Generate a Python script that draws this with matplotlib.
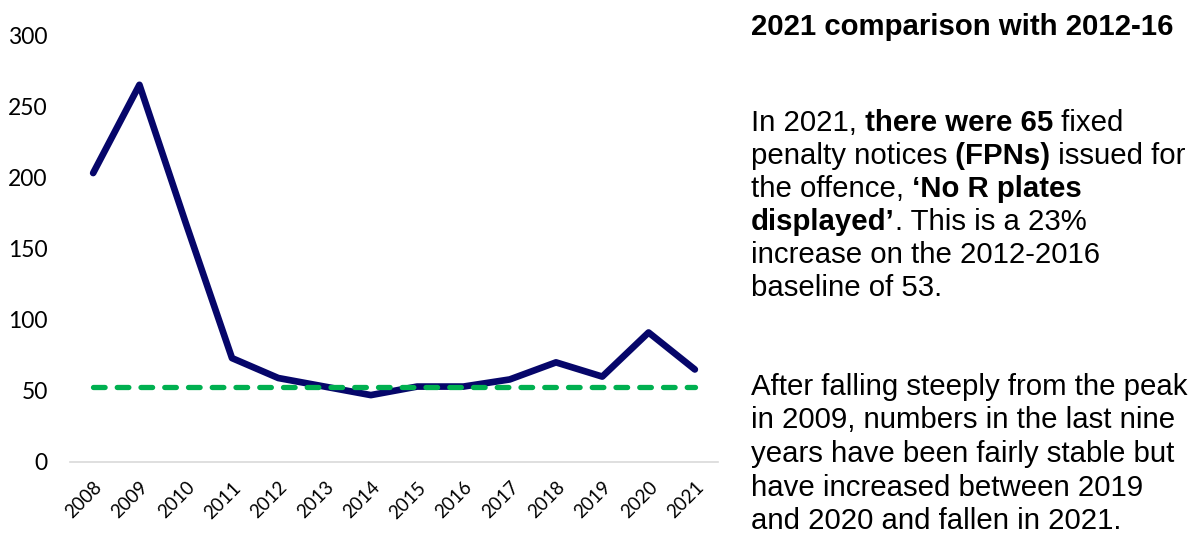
import numpy as np
import matplotlib
matplotlib.use("Agg")
import matplotlib.pyplot as plt

# Fixed penalty notices issued for 'No R plates displayed'
years = ["2008", "2009", "2010", "2011", "2012", "2013", "2014",
         "2015", "2016", "2017", "2018", "2019", "2020", "2021"]
fpns = [203, 265, 168, 73, 59, 53, 47, 53, 53, 58, 70, 60, 91, 65]
baseline_2012_16 = 53

y_ticks = [0, 50, 100, 150, 200, 250, 300]

title = "2021 comparison with 2012-16"
para_one = [
    [("In 2021,", False), (" there were 65", True), (" fixed", False)],
    [("penalty notices", False), (" (FPNs)", True), (" issued for", False)],
    [("the offence,", False), (" \u2018No R plates", True)],
    [("displayed\u2019", True), (". This is a 23%", False)],
    [("increase on the 2012-2016", False)],
    [("baseline of 53.", False)],
]
para_two = [
    [("After falling steeply from the peak", False)],
    [("in 2009, numbers in the last nine", False)],
    [("years have been fairly stable but", False)],
    [("have increased between 2019", False)],
    [("and 2020 and fallen in 2021.", False)],
]

W, H = 1199, 540
fig = plt.figure(figsize=(W / 100, H / 100), dpi=100)
ax = fig.add_axes([70 / W, 1 - 462 / H, (718 - 70) / W, (462 - 35) / H])

x = np.arange(len(years))
ax.plot(x, fpns, color="#06066a", lw=4.8,
        solid_joinstyle="round", solid_capstyle="round", zorder=2)
ax.plot(x, np.full(len(years), baseline_2012_16), color="#00b050", lw=3.8,
        ls=(0, (2.2, 2.3)), dash_capstyle="round", zorder=3)

ax.set_xlim(-0.5, len(years) - 0.5)
ax.set_ylim(0, 300)
ax.set_yticks(y_ticks)
ax.set_yticklabels([str(v) for v in y_ticks], fontfamily="Lato", fontsize=16.5)
ax.set_xticks(x)
ax.set_xticklabels(years, fontfamily="Lato", fontsize=13.5, rotation=45,
                   ha="right", va="top", rotation_mode="anchor")
ax.tick_params(axis="y", length=0, pad=16)
ax.tick_params(axis="x", length=0, pad=12)

for side in ["left", "right", "top"]:
    ax.spines[side].set_visible(False)
ax.spines["bottom"].set_color("#d9d9d9")
ax.spines["bottom"].set_linewidth(1.2)

# Commentary panel
txt_kw = dict(fontfamily="Liberation Sans", fontsize=21.2, color="black")
x0 = 751 / W


def write_line(y_px, segments):
    text, bold = segments[0]
    t = fig.text(x0, 1 - y_px / H, text, va="baseline", ha="left",
                 fontweight="bold" if bold else "normal", **txt_kw)
    for text, bold in segments[1:]:
        t = ax.annotate(text, xy=(1, 0), xycoords=t, va="bottom", ha="left",
                        fontweight="bold" if bold else "normal",
                        annotation_clip=False, **txt_kw)


write_line(35, [(title, True)])
for i, segs in enumerate(para_one):
    write_line(131 + 33 * i, segs)
for i, segs in enumerate(para_two):
    write_line(395 + 33.5 * i, segs)

fig.savefig("out.png", dpi=100)
